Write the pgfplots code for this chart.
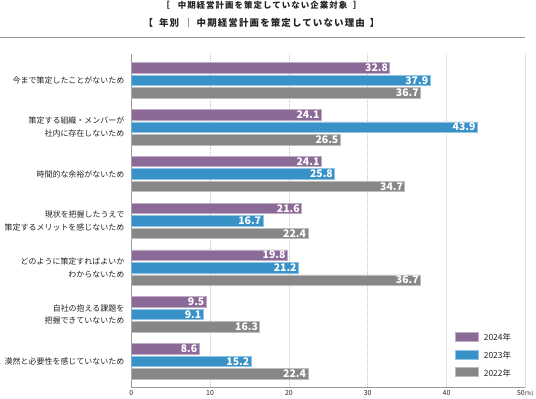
\documentclass[border=0pt]{standalone}
\usepackage{fontspec}
\setmainfont{Noto Sans CJK JP}
\usepackage{pgfplots}
\pgfplotsset{compat=1.18}
\definecolor{c24}{RGB}{139,106,151}
\definecolor{c23}{RGB}{56,146,199}
\definecolor{c22}{RGB}{135,135,135}
\definecolor{txt}{RGB}{35,35,35}
\pgfplotsset{patchlegend/.style={legend image code/.code={\draw[##1, line width=0.6bp] (0bp,-2.5bp) rectangle (23bp,6.5bp);}}}
\begin{document}
\begin{tikzpicture}
\useasboundingbox (0bp,0bp) rectangle (536bp,399bp);
\node[font=\fontsize{8.5}{10}\selectfont\bfseries\addfontfeatures{LetterSpace=12}, text=txt, inner sep=0pt] at (261.5bp,393.3bp) {［\hspace{8bp}中期経営計画を策定していない企業対象\hspace{6bp}］};
\node[font=\fontsize{9.5}{11}\selectfont\bfseries\addfontfeatures{LetterSpace=12}, text=txt, inner sep=0pt] at (261.5bp,376.3bp) {【\hspace{6bp}年別\hspace{5bp}｜\hspace{3bp}中期経営計画を策定していない理由\hspace{5bp}】};
\draw[gray!80, line width=1bp] (0bp,361.7bp) -- (525.3bp,361.7bp);
\begin{axis}[
  at={(131.3bp,11.7bp)}, anchor=south west,
  scale only axis, width=394bp, height=333bp,
  xbar, bar width=10.5bp,
  xmin=0, xmax=50, ymin=-0.556, ymax=6.556,
  axis x line*=bottom, axis y line*=left,
  axis line style={-, gray!80, line width=0.8bp},
  xtick={0,10,20,30,40,50},
  xticklabels={0,10,20,30,40,{50{\fontsize{5.5}{6}\selectfont(\%)}}},
  ytick={0,1,2,3,4,5,6},
  yticklabels={
    漠然と必要性を感じていないため,
    {自社の抱える課題を\\把握できていないため},
    {どのように策定すればよいか\\わからないため},
    {現状を把握したうえで\\策定するメリットを感じないため},
    時間的な余裕がないため,
    {策定する組織・メンバーが\\社内に存在しないため},
    今まで策定したことがないため},
  major tick length=0pt,
  /pgf/number format/assume math mode=true,
  xticklabel style={font=\fontsize{7}{8}\selectfont, text=txt},
  yticklabel style={align=right, font=\fontsize{8}{12.7}\selectfont, text=txt, xshift=-3.5bp},
  xmajorgrids, major grid style={gray!45, dash pattern=on 0.8bp off 1.2bp, line width=0.6bp},
  point meta=x,
  nodes near coords={\pgfmathprintnumber[fixed,fixed zerofill,precision=1]{\pgfplotspointmeta}},
  nodes near coords align={left},
  every node near coord/.append style={font=\fontsize{10.5}{11}\selectfont\bfseries, text=white, inner sep=1.5bp},
  legend cell align=left,
  legend style={at={(rel axis cs:0.8216,0.167)}, anchor=north west, draw=none, fill=none, inner sep=0pt, row sep=6.5bp,
    nodes={inner sep=0pt, text height=6.5bp, text depth=2.5bp, font=\fontsize{8.5}{10}\selectfont, text=txt},
    /tikz/every odd column/.style={column sep=5bp}},
]
\addplot[fill=c24, draw=c24!55!white, line width=0.6bp, bar shift=12.5bp, patchlegend] coordinates {(32.8,6) (24.1,5) (24.1,4) (21.6,3) (19.8,2) (9.5,1) (8.6,0)};
\addplot[fill=c23, draw=c23!55!white, line width=0.6bp, bar shift=0bp, patchlegend] coordinates {(37.9,6) (43.9,5) (25.8,4) (16.7,3) (21.2,2) (9.1,1) (15.2,0)};
\addplot[fill=c22, draw=c22!55!white, line width=0.6bp, bar shift=-12.5bp, patchlegend] coordinates {(36.7,6) (26.5,5) (34.7,4) (22.4,3) (36.7,2) (16.3,1) (22.4,0)};
\legend{2024年,2023年,2022年}
\end{axis}
\end{tikzpicture}
\end{document}
